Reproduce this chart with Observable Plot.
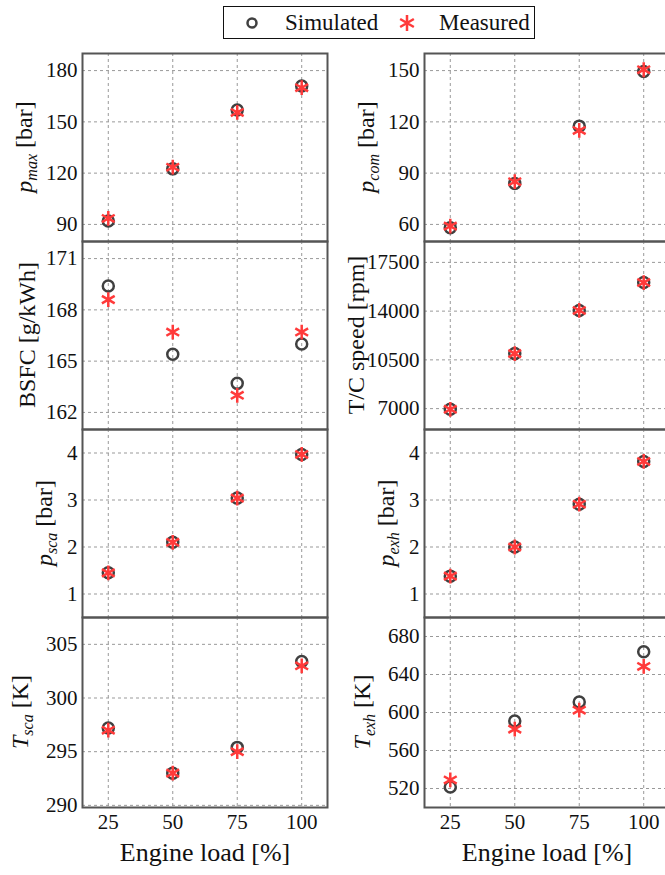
<!DOCTYPE html>
<html>
<head>
<meta charset="utf-8">
<script src="https://cdn.jsdelivr.net/npm/d3@7"></script>
<script src="https://cdn.jsdelivr.net/npm/@observablehq/plot@0.6"></script>
<style>
  html, body { margin: 0; padding: 0; background: white; }
  #chart { position: relative; width: 665px; height: 875px; overflow: hidden; background: white;
           font-family: 'Liberation Serif'; color: #111; }
  #chart svg, #chart svg text { font-family: 'Liberation Serif' !important; }
  .ytitle { position: absolute; white-space: nowrap; font-size: 24px; line-height: 1;
            font-family: 'Liberation Serif';
            transform: translate(-50%, -50%) rotate(-90deg); }
  .ytitle i { font-style: italic; }
  .ytitle sub { font-size: 16px; font-style: italic; vertical-align: -5px; }
  #legend { position: absolute; left: 223px; top: 6px; width: 312px; height: 33px; box-sizing: border-box;
            border: 1.5px solid #111; font-size: 23px; font-family: 'Liberation Serif'; }
  #legend span { position: absolute; top: 2px; line-height: 28px; font-family: 'Liberation Serif'; }
  #legend svg { position: absolute; left: 0; top: 0; }
</style>
</head>
<body>
<div id="chart"></div>
<script>
// ---- data ----
const loads = [25, 50, 75, 100];
const xTicks = [25, 50, 75, 100];

const pmaxSim  = [92, 122.5, 157, 171];
const pmaxMeas = [93.5, 123.5, 155.5, 170];
const pmaxTicks = [90, 120, 150, 180];

const pcomSim  = [58, 84, 117.5, 149.5];
const pcomMeas = [59, 85, 115, 150.5];
const pcomTicks = [60, 90, 120, 150];

const bsfcSim  = [169.4, 165.4, 163.7, 166.0];
const bsfcMeas = [168.6, 166.7, 163.0, 166.7];
const bsfcTicks = [162, 165, 168, 171];

const tcSim  = [6950, 10950, 14050, 16050];
const tcMeas = [6950, 10950, 14050, 16050];
const tcTicks = [7000, 10500, 14000, 17500];

const pscaSim  = [1.45, 2.1, 3.04, 3.97];
const pscaMeas = [1.45, 2.1, 3.04, 3.97];
const pscaTicks = [1, 2, 3, 4];

const pexhSim  = [1.38, 2.0, 2.91, 3.82];
const pexhMeas = [1.38, 2.0, 2.91, 3.82];
const pexhTicks = [1, 2, 3, 4];

const tscaSim  = [297.2, 293.0, 295.4, 303.4];
const tscaMeas = [297.0, 293.0, 295.0, 303.0];
const tscaTicks = [290, 295, 300, 305];

const texhSim  = [521.5, 591, 611, 664];
const texhMeas = [529, 582.5, 602.5, 648.5];
const texhTicks = [520, 560, 600, 640, 680];

const seriesNames = ["Simulated", "Measured"];
const simColor = "#404040";
const measColor = "#ff3a3a";
const FONT = "Liberation Serif";

// ---- layout ----
const chart = document.getElementById("chart");
const rows = [[53, 188], [241, 188], [429, 188], [617, 190]];

function panel({sim, meas, domain, ticks, col, row}) {
  const bottom = row === 3;
  const mt = 4, mb = bottom ? 70 : 4;
  const left = col === 0 ? 0 : 330;
  const width = col === 0 ? 340 : 345;
  const marginLeft = col === 0 ? 82 : 94;
  const marginRight = col === 0 ? 13 : 6;
  const [top, h] = rows[row];
  const simData = loads.map((x, i) => ({x, y: sim[i]}));
  const measData = loads.map((x, i) => ({x, y: meas[i]}));
  const marks = [
    Plot.gridX(xTicks, {stroke: "#999", strokeOpacity: 1, strokeDasharray: "3,3", strokeWidth: 1}),
    Plot.gridY(ticks, {stroke: "#999", strokeOpacity: 1, strokeDasharray: "3,3", strokeWidth: 1}),
    Plot.axisY(ticks, {tickSize: 0, tickPadding: 5, fontSize: 21, fontFamily: FONT, tickFormat: d => `${d}`, label: null}),
    Plot.dot(simData, {x: "x", y: "y", r: 5.5, symbol: "circle", stroke: simColor, strokeWidth: 2.5, fill: "none"}),
    Plot.dot(measData, {x: "x", y: "y", r: 7, symbol: "asterisk", stroke: measColor, strokeWidth: 2.5}),
    Plot.frame({stroke: "#555", strokeWidth: 2})
  ];
  if (bottom) {
    marks.push(Plot.axisX(xTicks, {tickSize: 0, tickPadding: 7, fontSize: 21, fontFamily: FONT, tickFormat: d => `${d}`, label: null}));
    marks.push(Plot.text(["Engine load [%]"], {text: d => d, frameAnchor: "bottom", dy: 53, fontSize: 26, fontFamily: FONT, fill: "#111"}));
  }
  const svg = Plot.plot({
    width, height: h + mt + mb,
    marginLeft, marginRight, marginTop: mt, marginBottom: mb,
    x: {domain: [15, 110], axis: bottom ? undefined : null},
    y: {domain, axis: null},
    style: {background: "transparent", fontFamily: FONT, color: "#111", overflow: "visible"},
    marks
  });
  svg.setAttribute("font-family", FONT);
  svg.style.position = "absolute";
  svg.style.left = left + "px";
  svg.style.top = (top - mt) + "px";
  svg.style.maxWidth = "none";
  chart.append(svg);
}

panel({sim: pmaxSim, meas: pmaxMeas, domain: [80, 190], ticks: pmaxTicks, col: 0, row: 0});
panel({sim: pcomSim, meas: pcomMeas, domain: [50, 160], ticks: pcomTicks, col: 1, row: 0});
panel({sim: bsfcSim, meas: bsfcMeas, domain: [161, 172], ticks: bsfcTicks, col: 0, row: 1});
panel({sim: tcSim, meas: tcMeas, domain: [5500, 19000], ticks: tcTicks, col: 1, row: 1});
panel({sim: pscaSim, meas: pscaMeas, domain: [0.5, 4.5], ticks: pscaTicks, col: 0, row: 2});
panel({sim: pexhSim, meas: pexhMeas, domain: [0.5, 4.5], ticks: pexhTicks, col: 1, row: 2});
panel({sim: tscaSim, meas: tscaMeas, domain: [289.8, 307.5], ticks: tscaTicks, col: 0, row: 3});
panel({sim: texhSim, meas: texhMeas, domain: [500, 700], ticks: texhTicks, col: 1, row: 3});

// ---- y titles ----
const titles = [
  {html: '<i>p</i><sub>max</sub> [bar]', x: 26, y: 147},
  {html: 'BSFC [g/kWh]', x: 27, y: 335},
  {html: '<i>p</i><sub>sca</sub> [bar]', x: 46, y: 523},
  {html: '<i>T</i><sub>sca</sub> [K]', x: 22, y: 712},
  {html: '<i>p</i><sub>com</sub> [bar]', x: 368, y: 147},
  {html: 'T/C speed [rpm]', x: 356, y: 335},
  {html: '<i>p</i><sub>exh</sub> [bar]', x: 388, y: 523},
  {html: '<i>T</i><sub>exh</sub> [K]', x: 364, y: 712}
];
for (const t of titles) {
  const d = document.createElement("div");
  d.className = "ytitle";
  d.innerHTML = t.html;
  d.style.left = t.x + "px";
  d.style.top = t.y + "px";
  chart.append(d);
}

// ---- legend ----
const legend = document.createElement("div");
legend.id = "legend";
const ns = "http://www.w3.org/2000/svg";
const lsvg = document.createElementNS(ns, "svg");
lsvg.setAttribute("width", 310); lsvg.setAttribute("height", 31);
const circ = document.createElementNS(ns, "path");
circ.setAttribute("d", d3.symbol(d3.symbolCircle, Math.PI * 4.5 * 4.5)());
circ.setAttribute("transform", "translate(28,16)");
circ.setAttribute("fill", "none"); circ.setAttribute("stroke", simColor); circ.setAttribute("stroke-width", 2.5);
const ast = document.createElementNS(ns, "path");
ast.setAttribute("d", d3.symbol(d3.symbolAsterisk, Math.PI * 7.5 * 7.5)());
ast.setAttribute("transform", "translate(183,16)");
ast.setAttribute("fill", "none"); ast.setAttribute("stroke", measColor); ast.setAttribute("stroke-width", 2.5);
lsvg.append(circ, ast);
legend.append(lsvg);
const s1 = document.createElement("span"); s1.textContent = seriesNames[0]; s1.style.left = "61px";
const s2 = document.createElement("span"); s2.textContent = seriesNames[1]; s2.style.left = "215px";
legend.append(s1, s2);
chart.append(legend);
</script>
</body>
</html>
